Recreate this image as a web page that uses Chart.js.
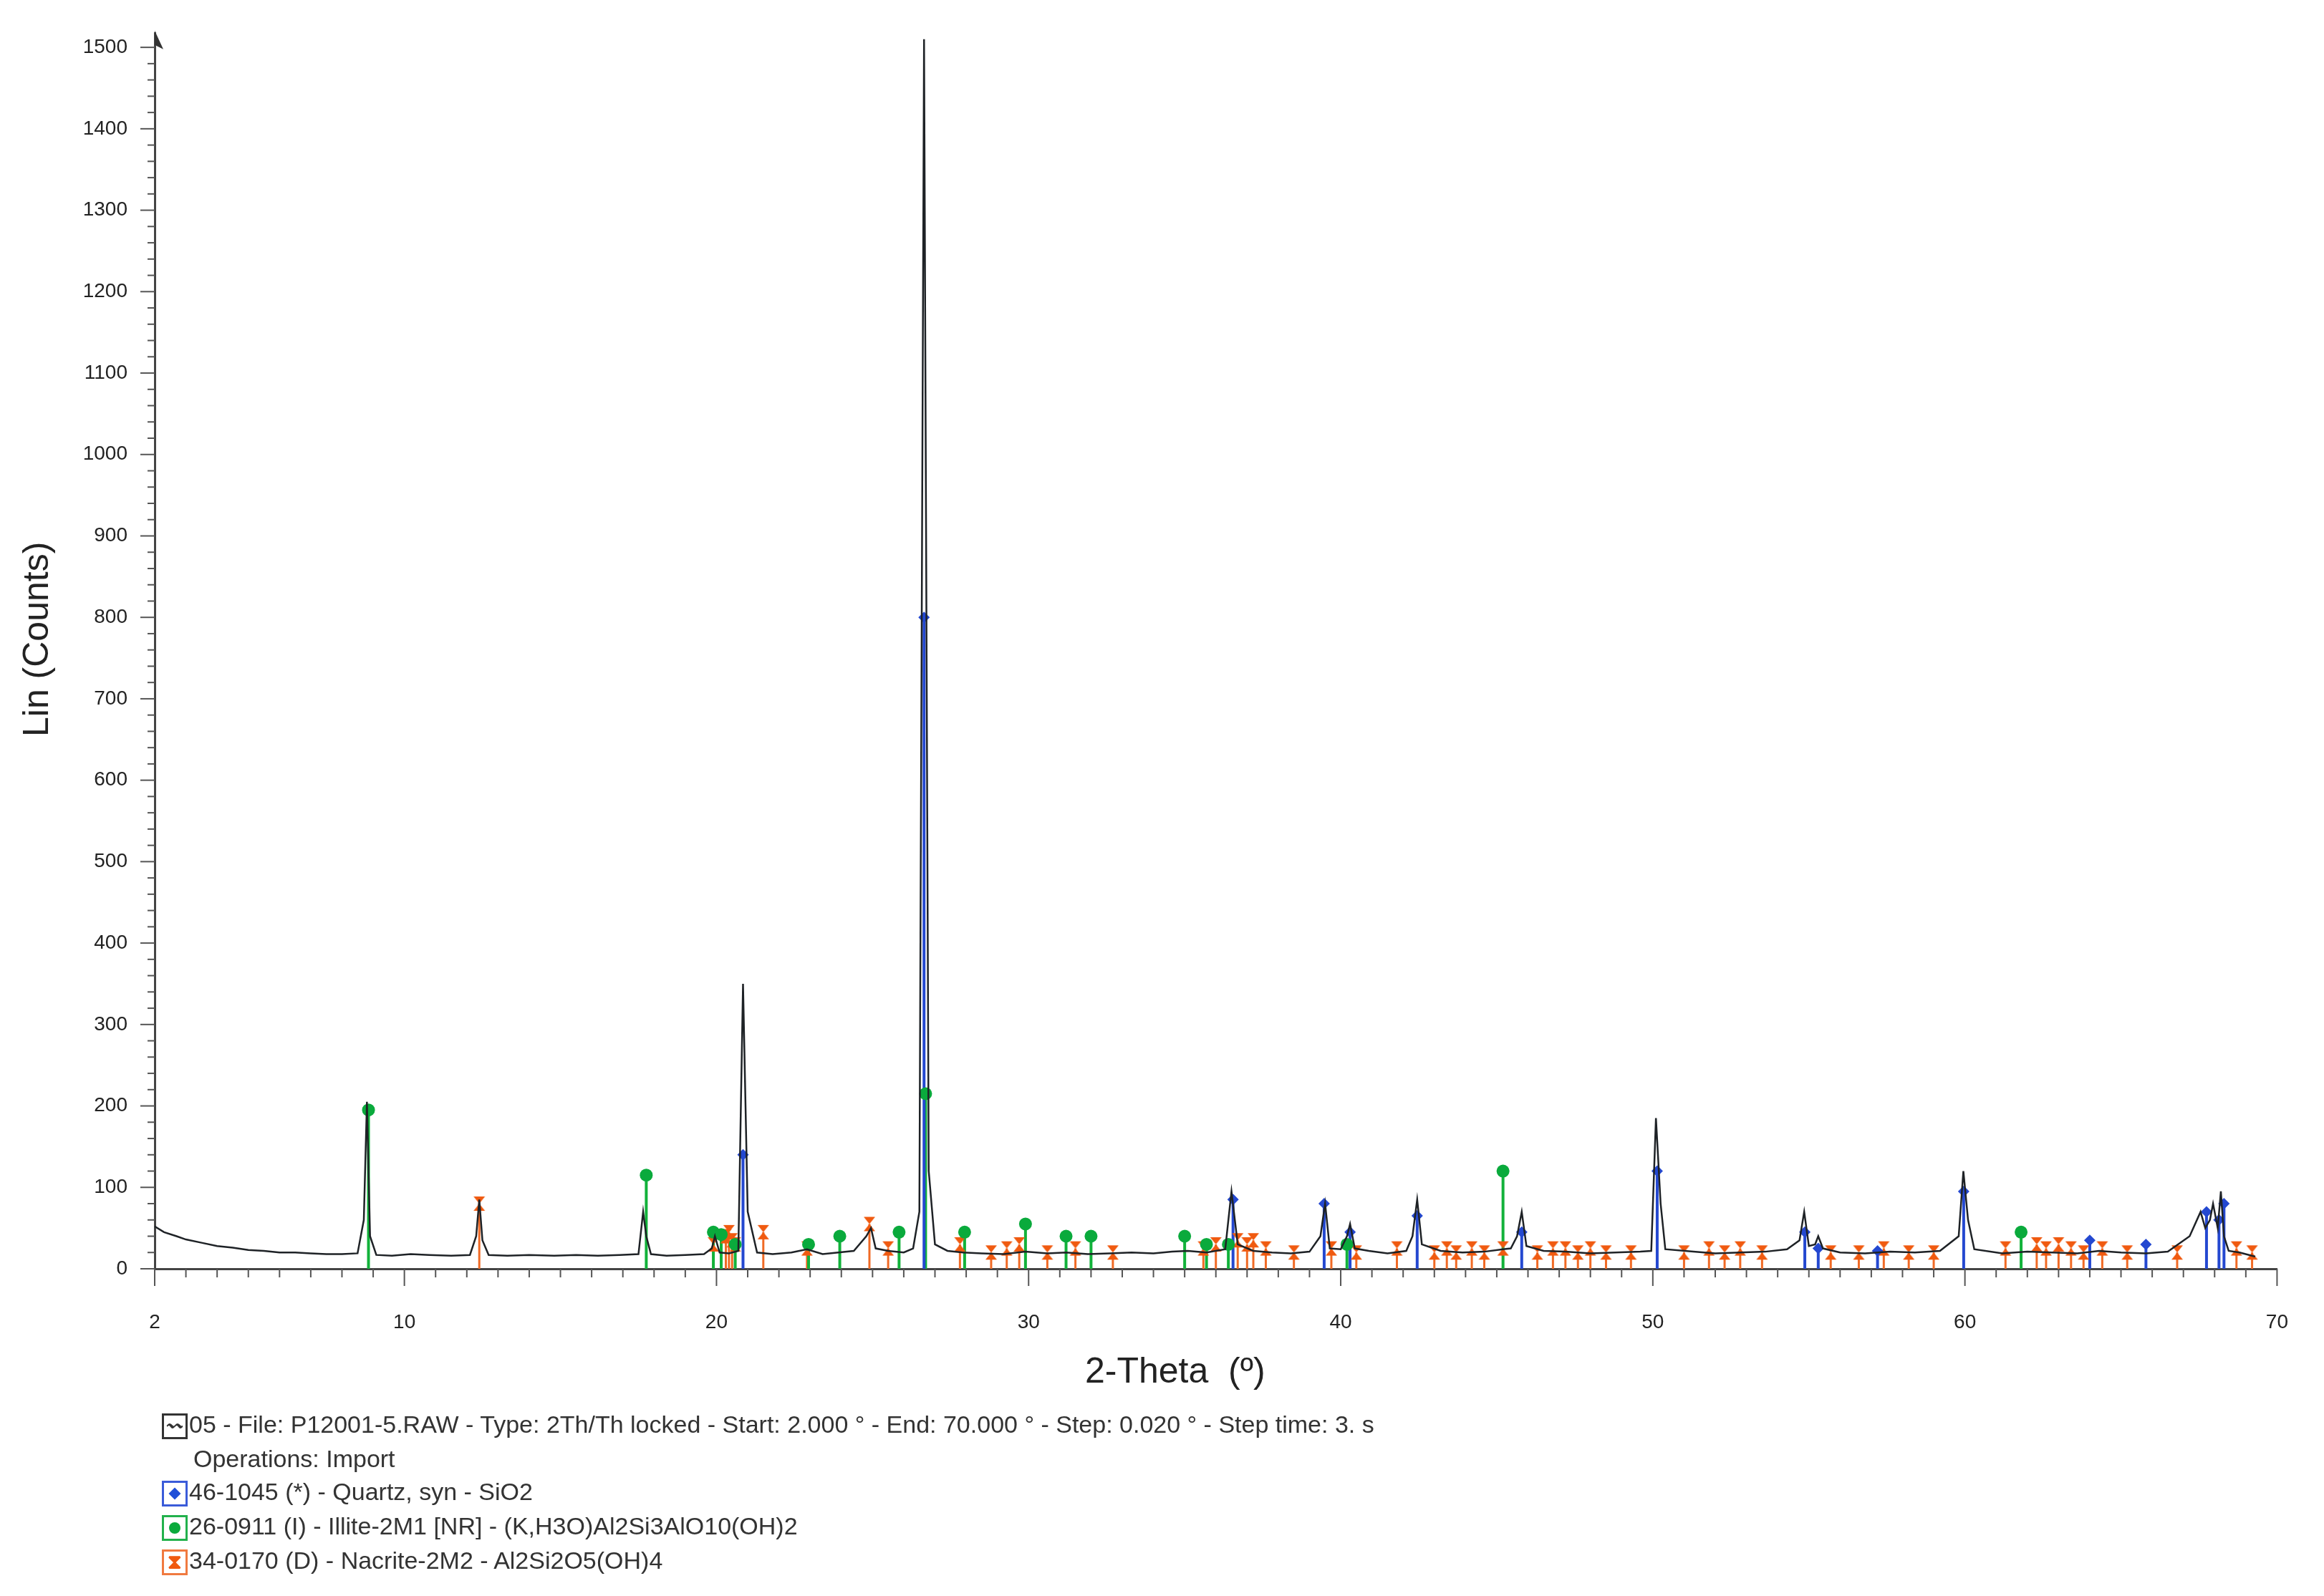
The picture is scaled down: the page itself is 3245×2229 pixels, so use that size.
<!DOCTYPE html>
<html><head><meta charset="utf-8">
<script src="https://cdn.jsdelivr.net/npm/chart.js@4"></script>
<style>
html,body{margin:0;padding:0;background:#fff;font-family:"Liberation Sans",Arial,sans-serif;}
#wrap{position:relative;width:3245px;height:2229px;}
canvas{position:absolute;left:0;top:0;}
.t{position:absolute;color:#222;white-space:nowrap;}
.leg{position:absolute;left:226px;font-size:34px;color:#333;white-space:nowrap;}
.box{display:inline-block;width:36px;height:36px;border:3px solid;box-sizing:border-box;vertical-align:middle;margin-right:2px;position:relative;}
</style></head><body>
<div id="wrap">
<canvas id="c" width="3245" height="2229"></canvas>
<div class="t" style="left:1515px;top:1885px;font-size:50px;">2-Theta &nbsp;(º)</div>
<div class="t" style="left:-80px;top:870px;font-size:50px;transform:rotate(-90deg);transform-origin:center;width:260px;text-align:center;">Lin (Counts)</div>
<div class="leg" style="top:1970px;"><span class="box" style="border-color:#333;font-size:22px;line-height:28px;text-align:center;">〰</span>05 - File: P12001-5.RAW - Type: 2Th/Th locked - Start: 2.000 ° - End: 70.000 ° - Step: 0.020 ° - Step time: 3. s</div>
<div class="leg" style="top:2018px;left:270px;">Operations: Import</div>
<div class="leg" style="top:2064px;"><span class="box" style="border-color:#3a5bd9;"><span style="position:absolute;left:9px;top:9px;width:12px;height:12px;background:#1f4fd8;transform:rotate(45deg);"></span></span>46-1045 (*) - Quartz, syn - SiO2</div>
<div class="leg" style="top:2112px;"><span class="box" style="border-color:#22b14c;"><span style="position:absolute;left:7px;top:7px;width:16px;height:16px;background:#0aaa3c;border-radius:50%;"></span></span>26-0911 (I) - Illite-2M1 [NR] - (K,H3O)Al2Si3AlO10(OH)2</div>
<div class="leg" style="top:2160px;"><span class="box" style="border-color:#f07a40;color:#f05a10;font-size:28px;line-height:30px;text-align:center;font-weight:bold;">⧗</span>34-0170 (D) - Nacrite-2M2 - Al2Si2O5(OH)4</div>
</div>
<script>
// measured profile (2-theta, counts)
const profileX = [2,2.3,2.7,3,3.5,4,4.5,5,5.5,6,6.5,7,7.5,8,8.5,8.7,8.8,8.9,9.1,9.6,10.2,10.8,11.5,12.1,12.3,12.4,12.5,12.7,13.3,14,14.8,15.5,16.2,16.9,17.5,17.65,17.75,17.9,18.4,19,19.6,19.85,19.95,20.1,20.4,20.7,20.85,21.0,21.3,21.8,22.4,22.9,23.4,23.9,24.4,24.8,24.95,25.1,25.5,26.0,26.3,26.5,26.65,26.8,27.0,27.4,27.9,28.5,29.2,29.9,30.6,31.2,31.9,32.6,33.3,34.0,34.6,35.1,35.7,36.3,36.5,36.7,37.2,37.8,38.4,39.0,39.35,39.5,39.65,40.0,40.2,40.3,40.45,40.9,41.5,42.1,42.3,42.45,42.6,43.2,43.9,44.6,45.2,45.45,45.65,45.8,45.95,46.5,47.2,48.0,48.8,49.6,49.95,50.1,50.25,50.4,51.3,52.0,52.8,53.6,54.3,54.7,54.85,55.0,55.2,55.3,55.45,56.0,56.8,57.6,58.4,59.2,59.8,59.95,60.1,60.3,61.2,62.0,62.8,63.6,64.3,65.0,65.8,66.5,67.2,67.55,67.7,67.85,67.95,68.1,68.2,68.3,68.45,68.8,69.3,70];
const profileY = [52,45,40,36,32,28,26,23,22,20,20,19,18,18,19,60,205,40,17,16,18,17,16,17,40,85,35,17,16,17,16,17,16,17,18,70,40,18,16,17,18,25,40,20,19,22,350,70,20,18,20,24,18,20,22,40,50,25,22,20,25,70,1510,120,30,22,20,19,18,21,19,20,18,19,20,19,21,22,20,24,95,30,22,20,19,21,40,80,25,24,40,55,25,22,19,22,40,85,30,22,20,21,24,25,40,70,28,22,21,19,20,21,22,185,80,24,21,19,20,21,24,35,70,28,30,40,25,20,19,21,20,22,40,120,60,24,19,21,20,19,22,20,19,21,40,70,50,60,80,50,95,40,22,20,15];

// reference stick patterns (2-theta, relative counts)
const quartzX = [20.85,26.65,36.55,39.47,40.3,42.45,45.8,50.14,54.87,55.3,57.2,59.96,64.0,65.8,67.74,68.14,68.3];
const quartzY = [140,800,85,80,45,65,45,120,45,25,22,95,35,30,70,60,80];
const illiteX = [8.85,17.75,19.9,20.15,20.6,22.95,23.95,25.85,26.7,27.95,29.9,31.2,32.0,35.0,35.7,36.4,40.2,45.2,61.8];
const illiteY = [195,115,45,42,30,30,40,45,215,45,55,40,40,40,30,30,30,120,45];
const nacriteX = [12.4,19.9,20.3,20.4,20.5,20.6,21.5,22.9,24.9,25.5,27.8,28.8,29.3,29.7,30.6,31.5,32.7,35.6,36.0,36.7,37.0,37.2,37.6,38.5,39.7,40.5,41.8,43.0,43.4,43.7,44.2,44.6,45.2,46.3,46.8,47.2,47.6,48.0,48.5,49.3,51.0,51.8,52.3,52.8,53.5,55.7,56.6,57.4,58.2,59.0,61.3,62.3,62.6,63.0,63.4,63.8,64.4,65.2,66.8,68.7,69.2];
const nacriteY = [80,30,40,45,35,30,45,25,55,25,30,20,25,30,20,25,20,25,30,35,30,35,25,20,25,20,25,20,25,20,25,20,25,20,25,25,20,25,20,20,20,25,20,25,20,20,20,25,20,20,25,30,25,30,25,20,25,20,20,25,20];

const xTickLabels = [2,10,20,30,40,50,60,70];
const yTickLabels = [0,100,200,300,400,500,600,700,800,900,1000,1100,1200,1300,1400,1500];

function pts(xs,ys){return xs.map((x,i)=>({x:x,y:ys[i]}));}
function sticks(xs,ys){const a=[];xs.forEach((x,i)=>{a.push({x:x,y:0},{x:x,y:ys[i]},{x:x,y:NaN});});return a;}
const hg=document.createElement('canvas');hg.width=22;hg.height=24;
(function(){const g=hg.getContext('2d');g.fillStyle='#f05a10';g.beginPath();g.moveTo(3,2);g.lineTo(19,2);g.lineTo(11,12);g.lineTo(19,22);g.lineTo(3,22);g.lineTo(11,12);g.closePath();g.fill();})();

const tickPlugin={id:'ticks',afterDraw(ch){
  const c=ch.ctx,xs=ch.scales.x,ys=ch.scales.y,b=ch.chartArea.bottom,l=ch.chartArea.left;
  c.save();c.strokeStyle='#555';c.lineWidth=2;
  for(let v=2;v<=70;v++){const p=xs.getPixelForValue(v);const len=(v%10===0||v===2||v===70)?24:12;c.beginPath();c.moveTo(p,b);c.lineTo(p,b+len);c.stroke();}
  for(let v=0;v<=1500;v+=20){const p=ys.getPixelForValue(v);const len=v%100===0?20:10;c.beginPath();c.moveTo(l,p);c.lineTo(l-len,p);c.stroke();}
  c.fillStyle='#333';c.beginPath();c.moveTo(l,ch.chartArea.top-4);c.lineTo(l+12,ch.chartArea.top+22);c.lineTo(l,ch.chartArea.top+16);c.fill();
  c.restore();}};

new Chart(document.getElementById('c'),{
  type:'line',
  data:{datasets:[
    {data:pts(profileX,profileY),borderColor:'#1e2226',borderWidth:2.5,pointRadius:0,tension:0,order:0},
    {data:sticks(quartzX,quartzY),borderColor:'#2448d0',borderWidth:4,pointRadius:0,spanGaps:false,order:2},
    {data:sticks(illiteX,illiteY),borderColor:'#12b23a',borderWidth:4,pointRadius:0,spanGaps:false,order:3},
    {data:sticks(nacriteX,nacriteY),borderColor:'#f06a25',borderWidth:3,pointRadius:0,spanGaps:false,order:4},
    {type:'scatter',data:pts(quartzX,quartzY),pointStyle:'rectRot',pointRadius:8,backgroundColor:'#2448d0',borderWidth:0,order:1},
    {type:'scatter',data:pts(illiteX,illiteY),pointStyle:'circle',pointRadius:9,backgroundColor:'#0aaa3c',borderWidth:0,order:1},
    {type:'scatter',data:pts(nacriteX,nacriteY),pointStyle:hg,order:1}
  ]},
  options:{responsive:false,animation:false,
    layout:{padding:{top:37,right:40,left:0,bottom:0}},
    plugins:{legend:{display:false},tooltip:{enabled:false}},
    scales:{
      x:{type:'linear',min:2,max:70,afterBuildTicks(s){s.ticks=xTickLabels.map(v=>({value:v}));},
        afterFit(s){s.height=457;},
        grid:{display:false},border:{color:'#444',width:3},
        ticks:{padding:50,color:'#222',font:{size:28,family:'Liberation Sans'},maxRotation:0,callback:v=>String(v)}},
      y:{min:0,max:1517,afterBuildTicks(s){s.ticks=yTickLabels.map(v=>({value:v}));},
        afterFit(s){s.width=216;},
        grid:{display:false},border:{color:'#444',width:3},
        ticks:{padding:30,color:'#222',font:{size:28,family:'Liberation Sans'},callback:v=>String(v)}}
    }},
  plugins:[tickPlugin]
});
</script></body></html>
